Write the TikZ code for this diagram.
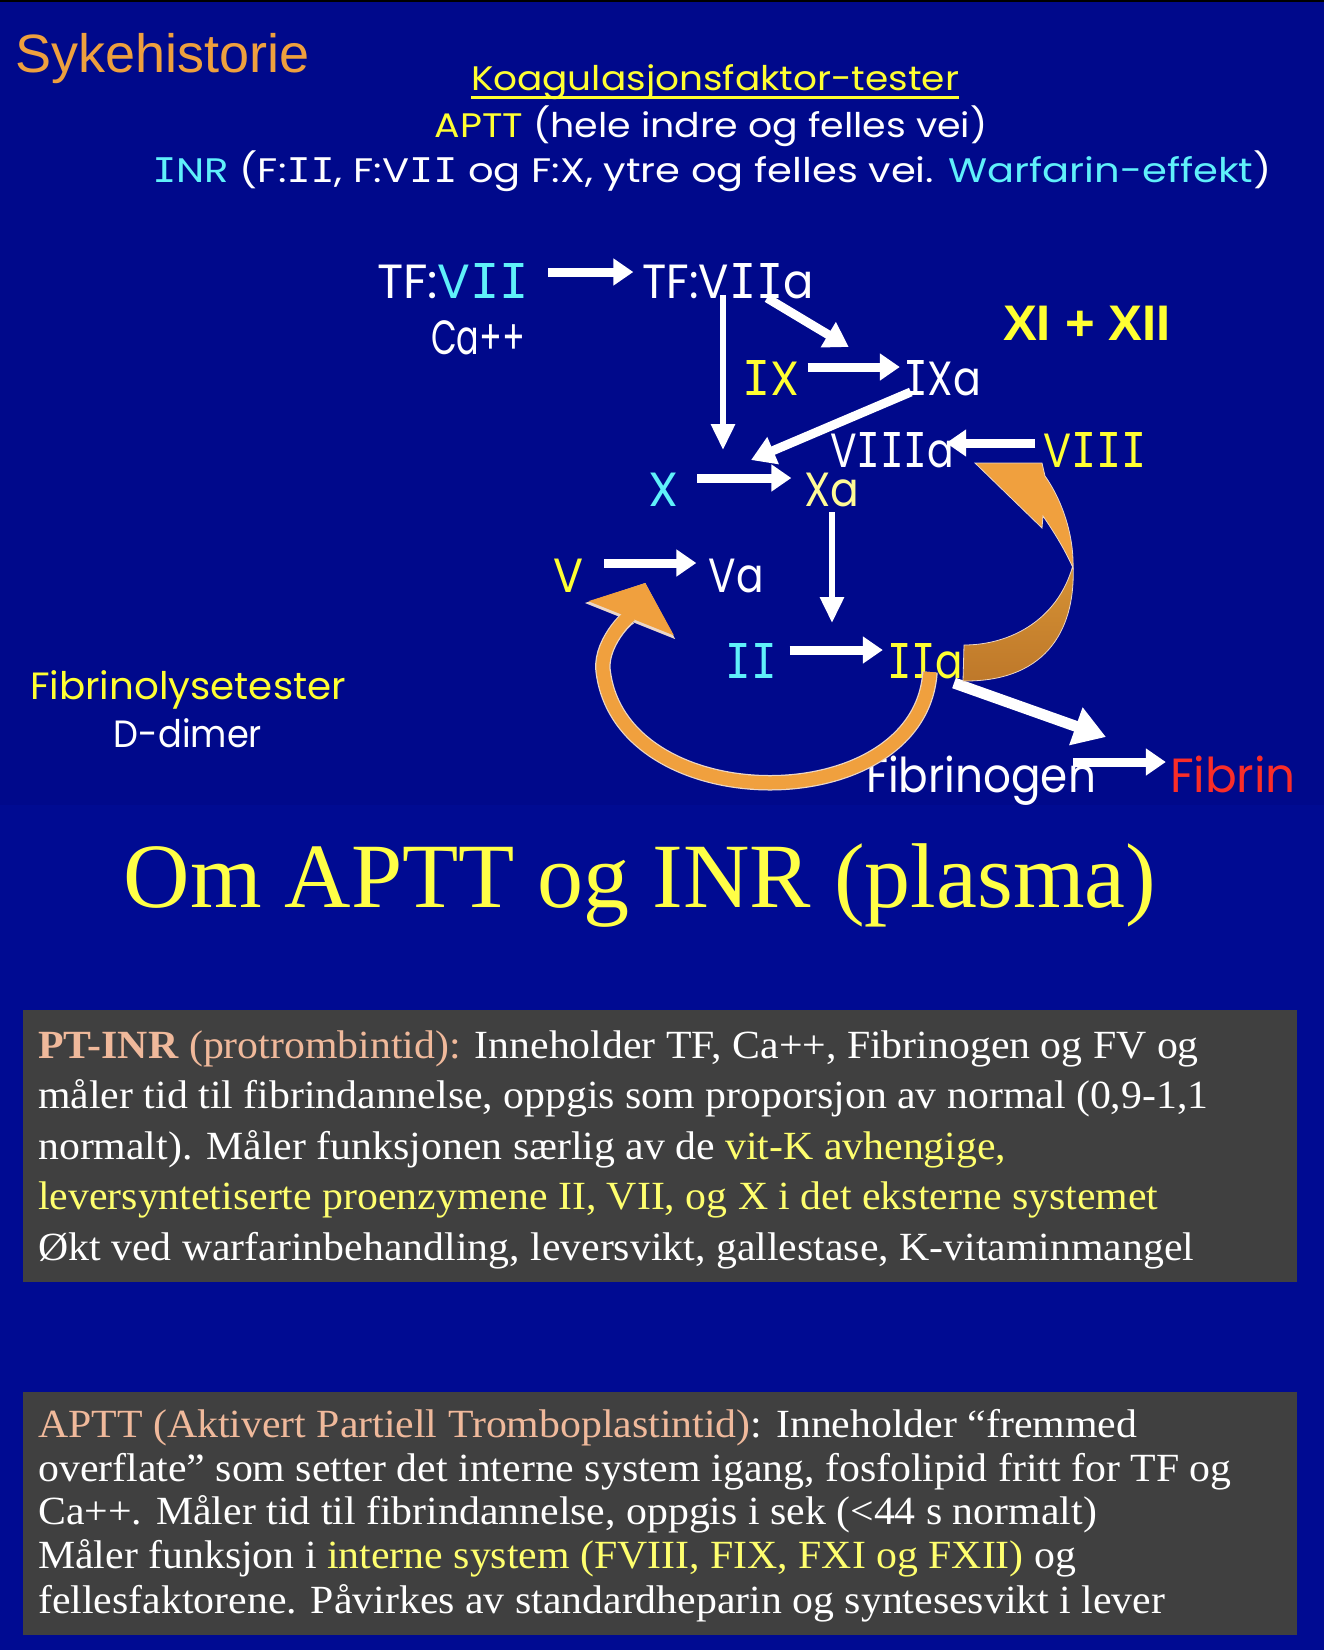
\documentclass[tikz,border=0pt]{standalone}
\usepackage{fontspec}
\setmainfont{Liberation Serif}
\newfontfamily\comicf{Poppins}
\newfontfamily\arialf{Liberation Sans}
\newfontfamily\monoI{DejaVu Sans Mono}
\newfontfamily\boxf[FakeStretch=1.045]{Liberation Serif}
\usetikzlibrary{arrows.meta,calc}
\definecolor{slideblue}  {RGB}{0,9,139}
\definecolor{slideblue2} {RGB}{0,11,146}
\definecolor{sykeorange} {RGB}{238,160,62}
\definecolor{cyel}       {RGB}{255,255,50}
\definecolor{cpale}      {RGB}{255,250,150}
\definecolor{ccyan}      {RGB}{95,240,250}
\definecolor{fibred}     {RGB}{250,45,40}
\definecolor{titleyel}   {RGB}{255,255,70}
\definecolor{boxgray}    {RGB}{64,64,64}
\definecolor{boxpink}    {RGB}{240,185,155}
\definecolor{boxyel}     {RGB}{255,255,110}
\definecolor{looporange} {RGB}{240,160,62}
\definecolor{loopedge}   {RGB}{235,215,200}
\definecolor{ribtop}     {RGB}{214,146,52}
\definecolor{ribbot}     {RGB}{190,120,42}
% tekst strukket til gitt bredde, samme hoyde
\newcommand{\fitw}[2]{\resizebox{#1pt}{\height}{#2}}
% romertall-I med seriffer
\newcommand{\sI}{{\monoI I}}

\begin{document}
\begin{tikzpicture}[x=1pt,y=-1pt,
  fac/.style={inner sep=0pt,anchor=base,text=white,
              font=\comicf\fontsize{48}{48}\selectfont},
  hdr/.style={inner sep=0pt,anchor=base,text=white,
              font=\comicf\fontsize{34}{34}\selectfont},
  boxln/.style={inner sep=0pt,anchor=base west,text=white,
                font=\boxf\fontsize{40}{40}\selectfont},
  harr/.style={draw=white,line width=9pt,-{Triangle[width=26pt,length=20pt]}},
  varr/.style={draw=white,line width=6pt,-{Triangle[width=23pt,length=26pt]}},
  darr/.style={draw=white,line width=9pt,-{Triangle[width=28pt,length=24pt]}},
  farr/.style={draw=white,line width=11pt,-{Triangle[width=38pt,length=32pt]}}
]
\useasboundingbox (0,0) rectangle (1324,1650);
\fill[slideblue2] (0,0) rectangle (1324,1650);
\fill[slideblue] (0,0) rectangle (1324,805);
\fill[black] (0,0) rectangle (1324,2);

%% overskrift
\node[inner sep=0pt,anchor=base west,text=sykeorange,
      font=\arialf\fontsize{54}{54}\selectfont] (syke) at (15,72) {Sykehistorie};
\node[hdr,text=cyel] (koag) at (715,90) {\fitw{488}{Koagulasjonsfaktor-tester}};
\draw[cyel,line width=3pt] ([yshift=-7pt]koag.base west) -- ([yshift=-7pt]koag.base east);
\node[hdr] (aptt) at (711,137) {\fitw{553}{\textcolor{cyel}{APTT} (hele indre og felles vei)}};
\node[hdr] (inr) at (712,182)
  {\fitw{1119}{\textcolor{ccyan}{\sI NR} (F:\sI\sI, F:V\sI\sI{} og F:X, ytre og felles vei. \textcolor{ccyan}{Warfarin-effekt})}};

%% faktorer
\node[fac] (TFVII)  at (453,298) {\fitw{152}{TF:\textcolor{ccyan}{V\sI\sI}}};
\node[fac] (Ca)     at (478,354) {\fitw{94}{Ca++}};
\node[fac] (TFVIIa) at (728,298) {\fitw{171}{TF:V\sI\sI a}};
\node[inner sep=0pt,anchor=base,text=cyel,
      font=\arialf\bfseries\fontsize{50}{50}\selectfont] (XIXII) at (1087,340) {\fitw{168}{XI + XII}};
\node[fac,text=cyel]   (IX)    at (771,395)  {\fitw{57}{\sI X}};
\node[fac]             (IXa)   at (942,395)  {\fitw{78}{\sI Xa}};
\node[fac]             (VIIIa) at (892,467)  {\fitw{124}{V\sI\sI\sI a}};
\node[fac,text=cyel]   (VIII)  at (1095,467) {\fitw{103}{V\sI\sI\sI}};
\node[fac,text=ccyan]  (X)     at (663,506)  {\fitw{30}{X}};
\node[fac,text=cpale]  (Xa)    at (832,506)  {\fitw{55}{Xa}};
\node[fac,text=cyel]   (V)     at (568,592)  {\fitw{30}{V}};
\node[fac]             (Va)    at (736,592)  {\fitw{55}{Va}};
\node[fac,text=ccyan]  (II)    at (751,678)  {\fitw{51}{\sI\sI}};
\node[fac,text=cyel]   (IIa)   at (925,678)  {\fitw{76}{\sI\sI a}};
\node[fac]             (Fgen)  at (981,792)  {\fitw{230}{Fibrinogen}};
\node[fac,text=fibred] (Fbin)  at (1233,792) {\fitw{126}{Fibrin}};
\node[hdr,text=cyel,font=\comicf\fontsize{38}{38}\selectfont] (fibtest) at (188,699) {\fitw{316}{Fibrinolysetester}};
\node[hdr,font=\comicf\fontsize{38}{38}\selectfont] (ddimer) at (188,747) {\fitw{148}{D-dimer}};

%% frie endepunkt
\coordinate (xin)   at (723,450);
\coordinate (xain)  at (751,460);
\coordinate (iiin)  at (832,623);
\coordinate (loopL) at (603,670);

%% piler
\draw[harr] ([shift={(19,-26)}]TFVII.base east) -- ([shift={(-9,-26)}]TFVIIa.base west);
\draw[varr] ([shift={(-5,-3)}]TFVIIa.base) -- (xin);
\draw[darr] ([shift={(39,0)}]TFVIIa.base) -- ([shift={(-54,-48)}]IXa.base west);
\draw[harr] ([shift={(8,-28)}]IX.base east) -- ([shift={(-3,-28)}]IXa.base west);
\draw[darr] ([shift={(8,-3)}]IXa.base west) -- (xain);
\draw[harr] ([shift={(-8,-24)}]VIII.base west) -- ([shift={(-8,-24)}]VIIIa.base east);
\draw[harr] ([shift={(19,-28)}]X.base east) -- ([shift={(-13,-28)}]Xa.base west);
\draw[varr] ([shift={(0,6)}]Xa.base) -- (iiin);
\draw[harr] ([shift={(21,-29)}]V.base east) -- ([shift={(-12,-29)}]Va.base west);
\draw[harr] ([shift={(13,-28)}]II.base east) -- ([shift={(-4,-28)}]IIa.base west);
\draw[farr] ([shift={(29,5)}]IIa.base) -- ([shift={(125,-55)}]Fgen.base);
\draw[harr] ([shift={(-23,-30)}]Fgen.base east) -- ([shift={(-4,-30)}]Fbin.base west);

%% oransje tilbakekobling IIa -> V
\draw[loopedge,line width=15.5pt,-{Triangle[width=95pt,length=41pt]}]
  ([shift={(5,-6)}]IIa.base) .. controls +(-10,148) and +(17,150) .. (loopL)
  .. controls +(-3,-30) and +(-10,25) .. ([shift={(-63,-9)}]Va.base west);
\draw[looporange,line width=13pt,-{Triangle[width=90pt,length=38pt]}]
  ([shift={(5,-6)}]IIa.base) .. controls +(-10,148) and +(17,150) .. (loopL)
  .. controls +(-3,-30) and +(-10,25) .. ([shift={(-63,-9)}]Va.base west);

%% oransje baand IIa -> VIIIa
\shade[top color=ribtop,bottom color=ribbot,draw=loopedge,line width=0.8pt]
  (1073,565) .. controls (1076,625) and (1050,682) .. (963,681) -- (964,645)
  .. controls (1010,645) and (1058,620) .. (1073,565) -- cycle;
\fill[looporange,draw=loopedge,line width=0.8pt]
  (975,463) -- (1042,463) -- (1045,476) .. controls (1062,500) and (1074,535) .. (1073,568)
  .. controls (1066,552) and (1056,535) .. (1043,516) -- (1042,528) -- cycle;

%% tittel
\node[inner sep=0pt,anchor=base,text=titleyel,font=\fontsize{92}{92}\selectfont]
  (title) at (640,907) {Om APTT og INR (plasma)};

%% boks 1
\fill[boxgray] (23,1010) rectangle (1297,1282);
\node[boxln] (pt1) at (38,1058) {\textcolor{boxpink}{\textbf{PT-INR} (protrombintid):} Inneholder TF, Ca++, Fibrinogen og FV og};
\node[boxln] (pt2) at (38,1108) {måler tid til fibrindannelse, oppgis som proporsjon av normal (0,9-1,1};
\node[boxln] (pt3) at (38,1159) {normalt). Måler funksjonen særlig av de \textcolor{boxyel}{vit-K avhengige,}};
\node[boxln,text=boxyel] (pt4) at (38,1209) {leversyntetiserte proenzymene II,  VII,  og X i det eksterne systemet};
\node[boxln] (pt5) at (38,1260) {Økt ved  warfarinbehandling, leversvikt,  gallestase, K-vitaminmangel};

%% boks 2
\fill[boxgray] (23,1392) rectangle (1297,1635);
\node[boxln] (ap1) at (38,1437) {\textcolor{boxpink}{APTT (Aktivert Partiell Tromboplastintid)}: Inneholder “fremmed};
\node[boxln] (ap2) at (38,1481) {overflate” som setter det interne system igang,  fosfolipid fritt for TF og};
\node[boxln] (ap3) at (38,1524) {Ca++. Måler tid til fibrindannelse, oppgis i sek (<44 s normalt)};
\node[boxln] (ap4) at (38,1568) {Måler funksjon i \textcolor{boxyel}{interne system (FVIII,  FIX, FXI og FXII)} og};
\node[boxln] (ap5) at (38,1613) {fellesfaktorene. Påvirkes  av standardheparin og syntesesvikt  i lever};
\end{tikzpicture}
\end{document}
